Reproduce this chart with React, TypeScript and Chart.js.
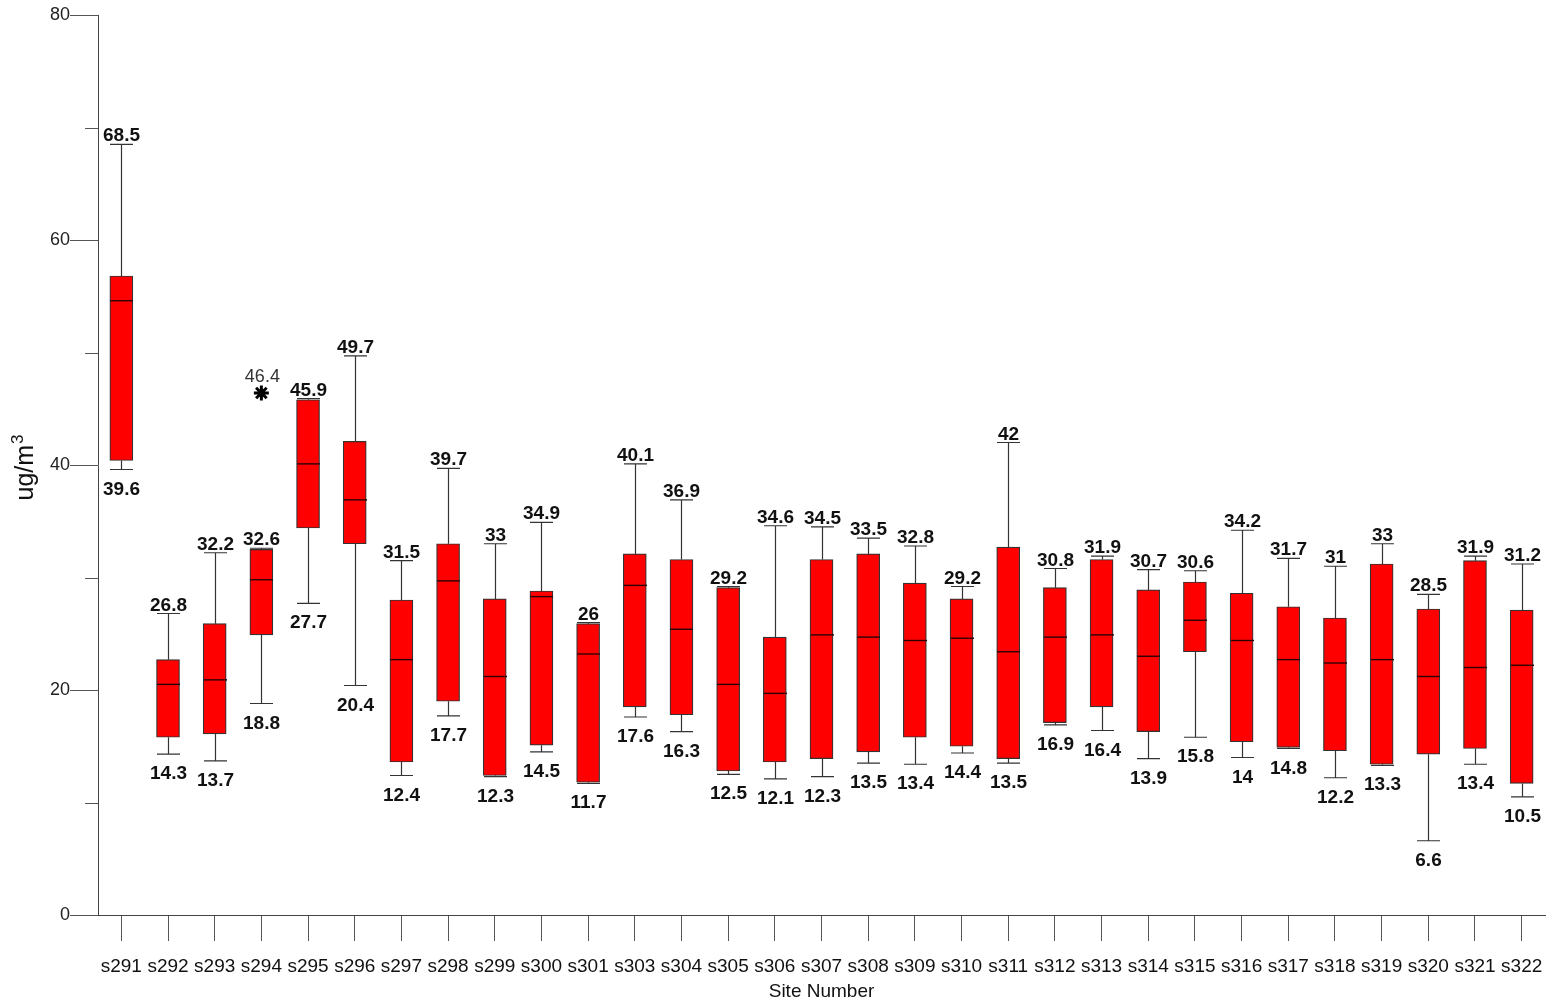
import React, { useEffect, useRef } from 'react';
import { Chart, registerables } from 'chart.js';

Chart.register(...registerables);

const sites = [
  's291', 's292', 's293', 's294', 's295', 's296', 's297', 's298', 's299', 's300', 's301',
  's303', 's304', 's305', 's306', 's307', 's308', 's309', 's310', 's311', 's312', 's313',
  's314', 's315', 's316', 's317', 's318', 's319', 's320', 's321', 's322',
];
const maxVals = [
  68.5, 26.8, 32.2, 32.6, 45.9, 49.7, 31.5, 39.7, 33, 34.9, 26,
  40.1, 36.9, 29.2, 34.6, 34.5, 33.5, 32.8, 29.2, 42, 30.8, 31.9,
  30.7, 30.6, 34.2, 31.7, 31, 33, 28.5, 31.9, 31.2,
];
const q3Vals = [
  56.8, 22.7, 25.9, 32.5, 45.8, 42.1, 28.0, 33.0, 28.1, 28.8, 25.9,
  32.1, 31.6, 29.1, 24.7, 31.6, 32.1, 29.5, 28.1, 32.7, 29.1, 31.6,
  28.9, 29.6, 28.6, 27.4, 26.4, 31.2, 27.2, 31.5, 27.1,
];
const medianVals = [
  54.6, 20.5, 20.9, 29.8, 40.1, 36.9, 22.7, 29.7, 21.2, 28.3, 23.2,
  29.3, 25.4, 20.5, 19.7, 24.9, 24.7, 24.4, 24.6, 23.4, 24.7, 24.9,
  23.0, 26.2, 24.4, 22.7, 22.4, 22.7, 21.2, 22.0, 22.2,
];
const q1Vals = [
  40.4, 15.8, 16.1, 24.9, 34.4, 33.0, 13.6, 19.0, 12.4, 15.1, 11.8,
  18.5, 17.8, 12.8, 13.6, 13.9, 14.5, 15.8, 15.0, 13.9, 17.1, 18.5,
  16.3, 23.4, 15.4, 14.9, 14.6, 13.4, 14.3, 14.8, 11.7,
];
const minVals = [
  39.6, 14.3, 13.7, 18.8, 27.7, 20.4, 12.4, 17.7, 12.3, 14.5, 11.7,
  17.6, 16.3, 12.5, 12.1, 12.3, 13.5, 13.4, 14.4, 13.5, 16.9, 16.4,
  13.9, 15.8, 14, 14.8, 12.2, 13.3, 6.6, 13.4, 10.5,
];
const outlierSites = ['s294'];
const outlierValues = [46.4];

const yMin = 0;
const yMax = 80;
const yMajorStep = 20;
const yMinorTicks = [10, 30, 50, 70];

const FONT = '"Liberation Sans", Arial, sans-serif';
const BOX_W = 23;

const decorPlugin = {
  id: 'boxDecor',
  afterDatasetsDraw(chart: any) {
    const { ctx, chartArea } = chart;
    const x = chart.scales.x;
    const y = chart.scales.y;
    ctx.save();
    // minor ticks on y axis
    ctx.strokeStyle = '#555';
    ctx.lineWidth = 1;
    yMinorTicks.forEach((v) => {
      const py = Math.round(y.getPixelForValue(v)) + 0.5;
      ctx.beginPath();
      ctx.moveTo(chartArea.left - 13, py);
      ctx.lineTo(chartArea.left, py);
      ctx.stroke();
    });

    const half = BOX_W / 2;
    sites.forEach((s, i) => {
      const cx = Math.round(x.getPixelForValue(i)) + 0.5;
      const pMax = y.getPixelForValue(maxVals[i]);
      const pQ3 = y.getPixelForValue(q3Vals[i]);
      const pMed = y.getPixelForValue(medianVals[i]);
      const pQ1 = y.getPixelForValue(q1Vals[i]);
      const pMin = y.getPixelForValue(minVals[i]);
      ctx.strokeStyle = '#333';
      ctx.lineWidth = 1.2;
      ctx.beginPath();
      ctx.moveTo(cx, pQ3);
      ctx.lineTo(cx, pMax);
      ctx.moveTo(cx - half, pMax);
      ctx.lineTo(cx + half, pMax);
      ctx.moveTo(cx, pQ1);
      ctx.lineTo(cx, pMin);
      ctx.moveTo(cx - half, pMin);
      ctx.lineTo(cx + half, pMin);
      ctx.stroke();
      // median
      ctx.strokeStyle = '#2a0000';
      ctx.lineWidth = 1.4;
      ctx.beginPath();
      ctx.moveTo(cx - half, pMed);
      ctx.lineTo(cx + half, pMed);
      ctx.stroke();
      // labels
      ctx.fillStyle = '#111';
      ctx.font = `bold 19px ${FONT}`;
      ctx.textAlign = 'center';
      ctx.textBaseline = 'alphabetic';
      ctx.fillText(String(maxVals[i]), cx, pMax - 3);
      ctx.fillText(String(minVals[i]), cx, pMin + 25);
    });

    // outlier labels
    ctx.font = `18px ${FONT}`;
    ctx.fillStyle = '#333';
    outlierSites.forEach((s, k) => {
      const px = x.getPixelForValue(sites.indexOf(s));
      const py = y.getPixelForValue(outlierValues[k]);
      ctx.fillText(String(outlierValues[k]), px + 1, py - 11);
    });

    // y axis title with superscript
    const cy = (chartArea.top + chartArea.bottom) / 2 + 3;
    ctx.translate(33, cy);
    ctx.rotate(-Math.PI / 2);
    ctx.fillStyle = '#111';
    ctx.textAlign = 'left';
    ctx.font = `25px ${FONT}`;
    const base = 'ug/m';
    const wBase = ctx.measureText(base).width;
    ctx.font = `17px ${FONT}`;
    const wSup = ctx.measureText('3').width;
    const start = -(wBase + wSup) / 2;
    ctx.font = `25px ${FONT}`;
    ctx.fillText(base, start, 0);
    ctx.font = `17px ${FONT}`;
    ctx.fillText('3', start + wBase + 1, -10);
    ctx.restore();
  },
};

export default function App() {
  const ref = useRef<HTMLCanvasElement | null>(null);
  useEffect(() => {
    if (!ref.current) return;
    const boxData = sites.map((_, i) => [q1Vals[i], q3Vals[i]]);
    const outlierData = outlierSites.map((s, k) => ({ x: s, y: outlierValues[k] }));
    const chart = new Chart(ref.current, {
      type: 'bar',
      data: {
        labels: sites,
        datasets: [
          {
            type: 'bar',
            data: boxData as any,
            backgroundColor: '#ff0000',
            borderColor: '#333',
            borderWidth: 1.2,
            borderSkipped: false,
            barThickness: BOX_W,
          },
          {
            type: 'line',
            data: outlierData as any,
            showLine: false,
            pointStyle: 'star',
            pointRadius: 7.5,
            pointBorderWidth: 3,
            pointBorderColor: '#000',
            pointBackgroundColor: '#000',
          } as any,
        ],
      },
      options: {
        responsive: false,
        animation: false,
        maintainAspectRatio: false,
        layout: { autoPadding: false, padding: { top: 15, right: 1, left: 0, bottom: -3 } },
        plugins: {
          legend: { display: false },
          tooltip: { enabled: false },
          title: { display: false },
        },
        scales: {
          x: {
            type: 'category',
            offset: true,
            grid: {
              offset: false,
              drawOnChartArea: false,
              drawTicks: true,
              tickLength: 26,
              color: '#555',
              tickColor: '#555',
            },
            border: { display: true, color: '#444', width: 1 },
            ticks: {
              color: '#111',
              font: { family: FONT, size: 19 },
              padding: 14,
              maxRotation: 0,
              autoSkip: false,
            },
            title: {
              display: true,
              text: 'Site Number',
              color: '#111',
              font: { family: FONT, size: 19 },
              padding: { top: 0, bottom: 0 },
            },
            afterFit: (s: any) => {
              s.height = 88;
              s.paddingLeft = 0;
              s.paddingRight = 0;
            },
          },
          y: {
            min: yMin,
            max: yMax,
            ticks: {
              stepSize: 10,
              color: '#222',
              font: { family: FONT, size: 18 },
              padding: 0,
              callback: (v: any) => (Number(v) % yMajorStep === 0 ? String(v) : ''),
            },
            grid: {
              drawOnChartArea: false,
              drawTicks: true,
              tickLength: 28,
              tickColor: (c: any) => (c.tick && c.tick.value % yMajorStep === 0 ? '#555' : 'rgba(0,0,0,0)'),
            },
            border: { display: true, color: '#444', width: 1 },
            afterFit: (s: any) => {
              s.width = 98;
              s.paddingTop = 0;
              s.paddingBottom = 0;
            },
          },
        },
      },
      plugins: [decorPlugin],
    });
    return () => chart.destroy();
  }, []);
  return (
    <div style={{ position: 'fixed', left: 0, top: 0, width: 1546, height: 1000, background: '#fff' }}>
      <canvas ref={ref} width={1546} height={1000} style={{ display: 'block' }} />
    </div>
  );
}
